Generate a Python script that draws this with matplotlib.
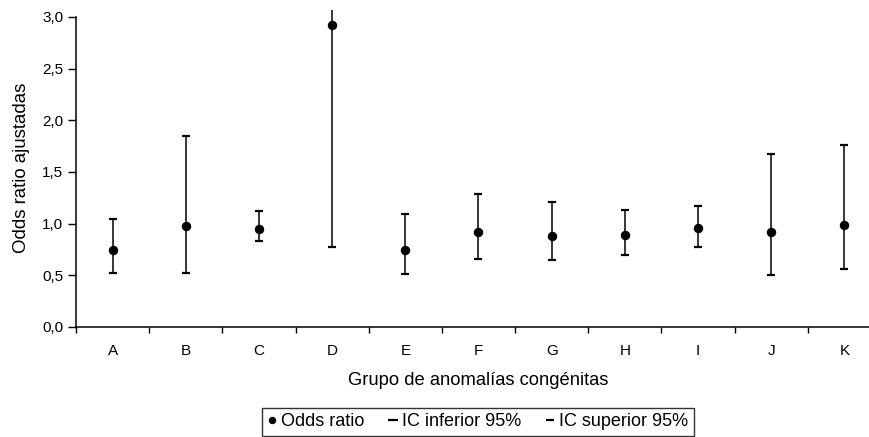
import matplotlib
matplotlib.use("Agg")
import matplotlib.pyplot as plt
from matplotlib.lines import Line2D
import numpy as np

plt.rcParams['font.family'] = ['Liberation Sans', 'DejaVu Sans']

categories = ["A", "B", "C", "D", "E", "F", "G", "H", "I", "J", "K"]
odds_ratio = [0.74, 0.98, 0.95, 2.92, 0.745, 0.915, 0.88, 0.89, 0.955, 0.915, 0.985]
ic_inferior = [0.525, 0.525, 0.83, 0.775, 0.515, 0.66, 0.65, 0.70, 0.775, 0.505, 0.56]
ic_superior = [1.04, 1.85, 1.125, 3.20, 1.095, 1.285, 1.21, 1.135, 1.175, 1.67, 1.765]

fig = plt.figure(figsize=(8.7, 4.37), dpi=100)
ax = fig.add_axes([76/870, 110/437, 805/870, 317.4/437])

x = np.arange(len(categories))
or_arr = np.array(odds_ratio)
lo = or_arr - np.array(ic_inferior)
hi = np.array(ic_superior) - or_arr
ax.errorbar(x, or_arr, yerr=[lo, hi], fmt='o', color='black', ms=5.8,
            elinewidth=1.1, capsize=3, capthick=1.6, ecolor='black')

ax.set_xlim(-0.5, len(categories) - 0.5)
ax.set_ylim(0, 3.07)
ax.set_yticks(np.arange(0, 3.01, 0.5))
ax.set_yticklabels([f"{v:.1f}".replace('.', ',') for v in np.arange(0, 3.01, 0.5)])
ax.set_xticks(np.arange(-0.5, len(categories), 1.0))
ax.set_xticklabels([])
ax.set_xticks(x, minor=True)
ax.set_xticklabels(categories, minor=True)
ax.tick_params(axis='x', which='minor', length=0, pad=12, labelsize=11)
ax.tick_params(axis='x', which='major', direction='out', length=4.5, width=1)
ax.tick_params(axis='y', direction='out', length=5.5, width=1, labelsize=11, pad=3.5)

for s in ['top', 'right']:
    ax.spines[s].set_visible(False)
ax.spines['left'].set_bounds(0, 3.0)
ax.spines['left'].set_linewidth(1.1)
ax.spines['bottom'].set_linewidth(1.1)

ax.set_ylabel("Odds ratio ajustadas", fontsize=13.4, labelpad=9)
ax.set_xlabel("Grupo de anomalías congénitas", fontsize=13.2, labelpad=10)

handles = [
    Line2D([], [], marker='o', color='black', linestyle='none', ms=4.3),
    Line2D([], [], marker='_', color='black', linestyle='none', ms=7, mew=1.6),
    Line2D([], [], marker='_', color='black', linestyle='none', ms=6, mew=1.6),
]
labels = ["Odds ratio", "IC inferior 95%", "IC superior 95%"]
leg = fig.legend(handles, labels, loc='upper left', bbox_to_anchor=(262/870, 1 - 408/437),
                 ncol=3, frameon=True, fancybox=False, edgecolor='black', fontsize=13,
                 handlelength=0.5, handletextpad=0.25, columnspacing=1.35, borderpad=0.3,
                 borderaxespad=0)
leg.get_frame().set_linewidth(1.0)

fig.savefig("out.png", dpi=100)
